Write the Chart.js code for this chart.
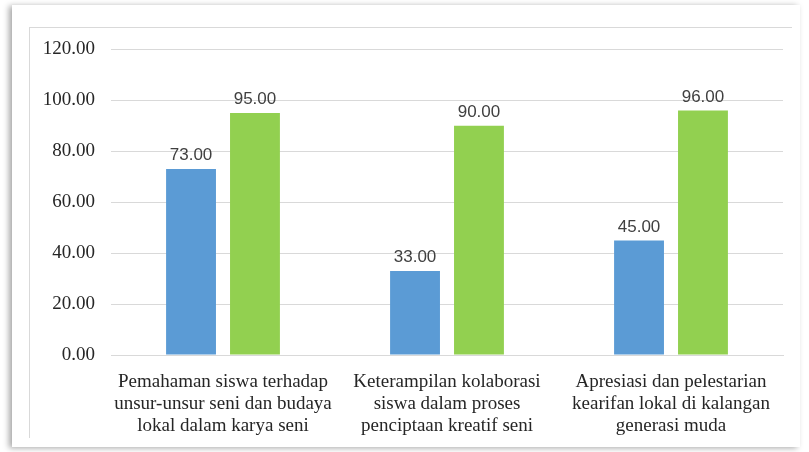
<!DOCTYPE html>
<html>
<head>
<meta charset="utf-8">
<script src="https://cdn.jsdelivr.net/npm/chart.js@4"></script>
<style>
  html, body { margin: 0; padding: 0; background: #ffffff; }
  body { width: 809px; height: 452px; position: relative; overflow: hidden; }
  .frame {
    position: absolute; left: 12px; top: 5px; width: 788px; height: 442px;
    background: #fff;
    box-shadow: -3px 1px 6px rgba(0,0,0,0.35);
  }
  .inner {
    position: absolute; left: 29px; top: 27px; width: 762px; height: 410px;
    border-left: 1px solid #d9d9d9; border-top: 1px solid #d9d9d9;
  }
  #wrap { position: absolute; left: 30px; top: 22px; width: 760px; height: 415px; }
</style>
</head>
<body>
<div class="frame"></div>
<div class="inner"></div>
<div id="wrap"><canvas id="c"></canvas></div>
<script>
// ── Data ────────────────────────────────────────────
const categories = [
  ['Pemahaman siswa terhadap', 'unsur-unsur seni dan budaya', 'lokal dalam karya seni'],
  ['Keterampilan kolaborasi', 'siswa dalam proses', 'penciptaan kreatif seni'],
  ['Apresiasi dan pelestarian', 'kearifan lokal di kalangan', 'generasi muda'],
];
const seriesBlue  = [73, 33, 45];
const seriesGreen = [95, 90, 96];

const COLORS = {
  blue:  '#5b9bd5',
  green: '#92d050',
  grid:  '#d9d9d9',
  text:  '#262626',
  label: '#404040',
};

const SERIF = '"Liberation Serif", "Times New Roman", serif';

// label nilai di atas batang
const valueLabels = {
  id: 'valueLabels',
  afterDatasetsDraw(chart) {
    const ctx = chart.ctx;
    ctx.save();
    ctx.font = '17px "Liberation Sans", Arial, sans-serif';
    ctx.fillStyle = COLORS.label;
    ctx.textAlign = 'center';
    ctx.textBaseline = 'bottom';
    chart.data.datasets.forEach((ds, i) => {
      chart.getDatasetMeta(i).data.forEach((bar, j) => {
        ctx.fillText(ds.data[j].toFixed(2), bar.x, bar.y - 5);
      });
    });
    ctx.restore();
  }
};

new Chart(document.getElementById('c').getContext('2d'), {
  type: 'bar',
  data: {
    labels: categories,
    datasets: [
      { label: 'A', data: seriesBlue,  backgroundColor: COLORS.blue,  borderWidth: 0 },
      { label: 'B', data: seriesGreen, backgroundColor: COLORS.green, borderWidth: 0 },
    ]
  },
  options: {
    responsive: true,
    maintainAspectRatio: false,
    animation: false,
    categoryPercentage: 0.571,
    barPercentage: 0.78,
    layout: { padding: { top: 9, right: 7, left: 0, bottom: 0 } },
    plugins: {
      legend: { display: false },
      tooltip: { enabled: false },
    },
    scales: {
      x: {
        grid: { display: false, drawTicks: false },
        border: { color: COLORS.grid },
        ticks: {
          color: COLORS.text,
          padding: 16,
          maxRotation: 0,
          autoSkip: false,
          font: { family: SERIF, size: 19, lineHeight: 1.16 },
        },
        afterFit: s => { s.height = 82; },
      },
      y: {
        min: 0,
        max: 120,
        grid: { color: COLORS.grid, drawTicks: false },
        border: { display: false },
        ticks: {
          stepSize: 20,
          color: COLORS.text,
          padding: 16,
          callback: v => v.toFixed(2),
          font: { family: SERIF, size: 19 },
        },
        afterFit: s => { s.width = 81; },
      },
    },
  },
  plugins: [valueLabels],
});
</script>
</body>
</html>
